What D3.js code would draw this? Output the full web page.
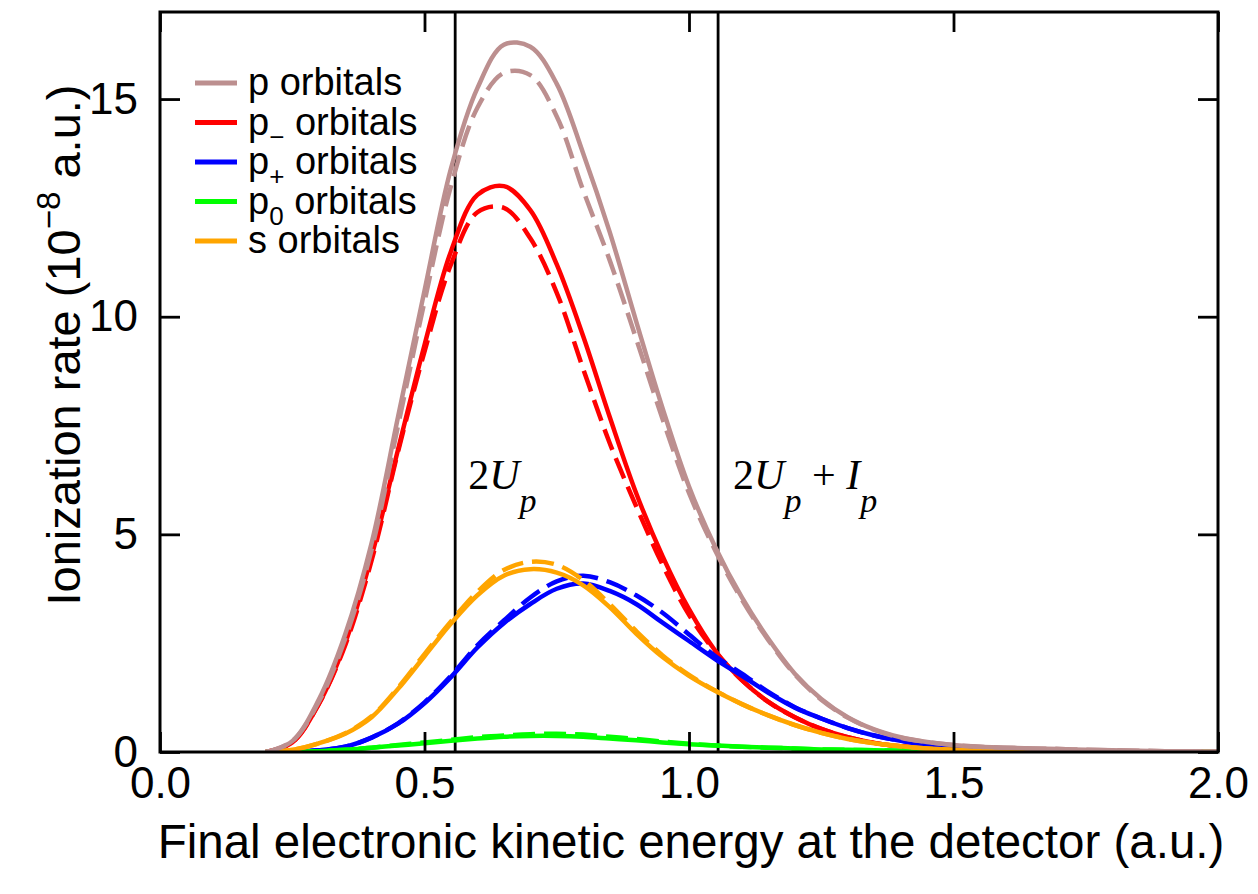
<html>
<head>
<meta charset="utf-8"/>
<script src="https://d3js.org/d3.v7.min.js"></script>
<style>
  body { margin: 0; background: #fff; }
  text { font-family: "Liberation Sans", Arial, sans-serif; }
</style>
</head>
<body>
<div id="v"></div>
<script type="text/javascript">
// energy grid (a.u.)
var energy = [0.20,0.25,0.30,0.35,0.40,0.45,0.50,0.55,0.60,0.65,0.70,0.75,0.80,0.85,0.90,0.95,1.00,1.05,1.10,1.15,1.20,1.25,1.30,1.35,1.40,1.45,1.50,1.55,1.60,1.65,1.70,1.75,1.80,1.85,1.90,1.95,2.00];

// ionization rate, 1e-8 a.u. ; solid and dashed for each orbital
var pSolid  = [0,0.25,1.2,2.7,4.8,7.7,10.6,13.4,15.25,16.25,16.2,15.35,13.75,11.95,9.9,7.9,6.1,4.7,3.55,2.6,1.8,1.22,0.8,0.52,0.34,0.23,0.16,0.12,0.1,0.08,0.07,0.05,0.04,0.03,0.02,0.015,0.01];
var pDashed = [0,0.25,1.15,2.6,4.65,7.5,10.35,13.0,14.8,15.6,15.55,14.6,12.9,11.3,9.5,7.65,5.95,4.62,3.5,2.57,1.78,1.2,0.79,0.51,0.33,0.23,0.16,0.12,0.1,0.08,0.07,0.05,0.04,0.03,0.02,0.015,0.01];
var pmSolid  = [0,0.22,1.1,2.5,4.5,6.95,9.35,11.5,12.8,13.0,12.45,11.2,9.55,7.7,5.95,4.5,3.28,2.32,1.65,1.15,0.8,0.53,0.34,0.21,0.13,0.09,0.06,0.04,0.03,0.02,0.01,0.01,0.005,0,0,0,0];
var pmDashed = [0,0.22,1.1,2.45,4.4,6.9,9.2,11.2,12.4,12.5,11.8,10.55,8.8,7.1,5.65,4.3,3.15,2.3,1.65,1.15,0.8,0.53,0.34,0.21,0.13,0.09,0.06,0.04,0.03,0.02,0.01,0.01,0.005,0,0,0,0];
var ppSolid  = [0,0.01,0.04,0.12,0.33,0.65,1.12,1.72,2.4,2.96,3.4,3.75,3.87,3.7,3.4,2.97,2.55,2.13,1.75,1.36,1.02,0.77,0.55,0.38,0.26,0.17,0.1,0.05,0.02,0,0,0,0,0,0,0,0];
var ppDashed = [0,0.01,0.04,0.12,0.33,0.66,1.14,1.75,2.45,3.02,3.55,3.92,4.05,3.9,3.6,3.2,2.7,2.2,1.8,1.38,1.03,0.77,0.55,0.38,0.26,0.17,0.1,0.05,0.02,0,0,0,0,0,0,0,0];
var p0Solid  = [0,0,0.02,0.05,0.1,0.15,0.2,0.26,0.31,0.35,0.37,0.37,0.35,0.31,0.27,0.22,0.18,0.15,0.12,0.1,0.08,0.06,0.05,0.04,0.03,0.025,0.02,0.015,0.01,0.01,0.005,0,0,0,0,0,0];
var p0Dashed = [0,0,0.02,0.05,0.1,0.16,0.22,0.28,0.34,0.38,0.41,0.42,0.4,0.35,0.3,0.24,0.19,0.15,0.12,0.1,0.08,0.06,0.05,0.04,0.03,0.025,0.02,0.015,0.01,0.01,0.005,0,0,0,0,0,0];
var sSolid  = [0,0.05,0.2,0.42,0.8,1.45,2.2,2.95,3.6,4.05,4.2,4.12,3.83,3.33,2.72,2.18,1.75,1.4,1.1,0.84,0.62,0.44,0.3,0.2,0.13,0.08,0.05,0.03,0.02,0.01,0,0,0,0,0,0,0];
var sDashed = [0,0.05,0.2,0.43,0.82,1.48,2.25,3.0,3.68,4.18,4.37,4.3,3.95,3.4,2.78,2.22,1.77,1.41,1.1,0.84,0.62,0.44,0.3,0.2,0.13,0.08,0.05,0.03,0.02,0.01,0,0,0,0,0,0,0];

var xTicks = [0, 0.5, 1.0, 1.5, 2.0];
var yTicks = [0, 5, 10, 15];
var markerLines = [0.558, 1.055]; // 2Up and 2Up+Ip

var series = [
  { color: "#ff0000", solid: pmSolid, dashed: pmDashed },
  { color: "#0000ff", solid: ppSolid, dashed: ppDashed },
  { color: "#00ff00", solid: p0Solid, dashed: p0Dashed },
  { color: "#ffa500", solid: sSolid,  dashed: sDashed },
  { color: "#bc8f8f", solid: pSolid,  dashed: pDashed }
];
var legendItems = [
  { main: "p", sub: null, rest: " orbitals", color: "#bc8f8f" },
  { main: "p", sub: "\u2212", rest: " orbitals", color: "#ff0000" },
  { main: "p", sub: "+", rest: " orbitals", color: "#0000ff" },
  { main: "p", sub: "0", rest: " orbitals", color: "#00ff00" },
  { main: "s", sub: null, rest: " orbitals", color: "#ffa500" }
];

var width = 1258, height = 894;
var m = { left: 160, right: 40, top: 12, bottom: 142 };
var w = width - m.left - m.right, h = height - m.top - m.bottom;

var svg = d3.select("#v").append("svg")
  .attr("width", width).attr("height", height);
var g = svg.append("g").attr("transform", "translate(" + m.left + "," + m.top + ")");

var x = d3.scaleLinear().domain([0, 2]).range([0, w]);
var y = d3.scaleLinear().domain([0, 17]).range([h, 0]);

svg.append("clipPath").attr("id", "clip")
  .append("rect").attr("width", w).attr("height", h);

var line = d3.line()
  .x(function(d) { return x(d[0]); })
  .y(function(d) { return y(d[1]); })
  .curve(d3.curveCatmullRom.alpha(0.5));

var plot = g.append("g").attr("clip-path", "url(#clip)");

// vertical markers
plot.selectAll(".marker").data(markerLines).enter()
  .append("line")
  .attr("x1", function(d) { return x(d); }).attr("x2", function(d) { return x(d); })
  .attr("y1", 0).attr("y2", h)
  .attr("stroke", "#000").attr("stroke-width", 2.8);

series.forEach(function(s) {
  var solid = energy.map(function(e, i) { return [e, s.solid[i]]; });
  var dashed = energy.map(function(e, i) { return [e, s.dashed[i]]; });
  plot.append("path").attr("d", line(solid))
    .attr("fill", "none").attr("stroke", s.color).attr("stroke-width", 4.5);
  plot.append("path").attr("d", line(dashed))
    .attr("fill", "none").attr("stroke", s.color).attr("stroke-width", 4.5)
    .attr("stroke-dasharray", "22,9");
});

// axes, ticks inward on all sides
function styleAxis(sel) {
  sel.select(".domain").remove();
  sel.selectAll(".tick line").attr("stroke", "#000").attr("stroke-width", 2.8);
  sel.selectAll("text").attr("fill", "#000").style("font-size", "44px")
    .style("font-family", "'Liberation Sans', Arial, sans-serif");
}
g.append("g").attr("transform", "translate(0," + h + ")")
  .call(d3.axisBottom(x).tickValues(xTicks).tickSize(-20).tickPadding(15).tickFormat(d3.format(".1f")))
  .call(styleAxis);
g.append("g")
  .call(d3.axisTop(x).tickValues(xTicks).tickSize(-20).tickFormat(""))
  .call(styleAxis);
g.append("g")
  .call(d3.axisLeft(y).tickValues(yTicks).tickSize(-20).tickPadding(22).tickFormat(d3.format("d")))
  .call(styleAxis);
g.append("g").attr("transform", "translate(" + w + ",0)")
  .call(d3.axisRight(y).tickValues(yTicks).tickSize(-20).tickFormat(""))
  .call(styleAxis);

g.append("rect").attr("width", w).attr("height", h)
  .attr("fill", "none").attr("stroke", "#000").attr("stroke-width", 3);

// axis titles
svg.append("text")
  .attr("x", m.left + w / 2 + 2).attr("y", 858)
  .attr("text-anchor", "middle").style("font-size", "47.5px")
  .text("Final electronic kinetic energy at the detector (a.u.)");

var yt = svg.append("text")
  .attr("transform", "translate(80,345) rotate(-90)")
  .attr("text-anchor", "middle").style("font-size", "47px");
yt.append("tspan").text("Ionization rate (10");
yt.append("tspan").attr("dy", -20).style("font-size", "33px").text("\u22128");
yt.append("tspan").attr("dy", 20).text(" a.u.)");

// energy marker labels
var serif = "'Liberation Serif', 'Times New Roman', serif";
function markLabel(xpos, parts) {
  var t = svg.append("text").attr("x", xpos).attr("y", 489)
    .style("font-family", serif).style("font-size", "42px");
  parts.forEach(function(p) {
    var ts = t.append("tspan").text(p.t);
    if (p.it) ts.style("font-style", "italic");
    if (p.sub) ts.attr("dy", 23).style("font-size", "34px");
    if (p.up) ts.attr("dy", -23);
  });
}
markLabel(x(markerLines[0]) + m.left + 13, [{t: "2"}, {t: "U", it: 1}, {t: "p", it: 1, sub: 1}]);
markLabel(x(markerLines[1]) + m.left + 15, [{t: "2"}, {t: "U", it: 1}, {t: "p", it: 1, sub: 1}, {t: " + ", up: 1}, {t: "I", it: 1}, {t: "p", it: 1, sub: 1}]);

// legend
var leg = g.append("g").attr("transform", "translate(35,71)");
legendItems.forEach(function(d, i) {
  var yy = i * 39.5;
  leg.append("line").attr("x1", 0).attr("x2", 42).attr("y1", yy).attr("y2", yy)
    .attr("stroke", d.color).attr("stroke-width", 5);
  var t = leg.append("text").attr("x", 53).attr("y", yy + 12).style("font-size", "38px");
  t.append("tspan").text(d.main);
  if (d.sub) {
    t.append("tspan").attr("dy", 11).style("font-size", "26px").text(d.sub);
    t.append("tspan").attr("dy", -11).text(d.rest);
  } else {
    t.append("tspan").text(d.rest);
  }
});
</script>
</body>
</html>
